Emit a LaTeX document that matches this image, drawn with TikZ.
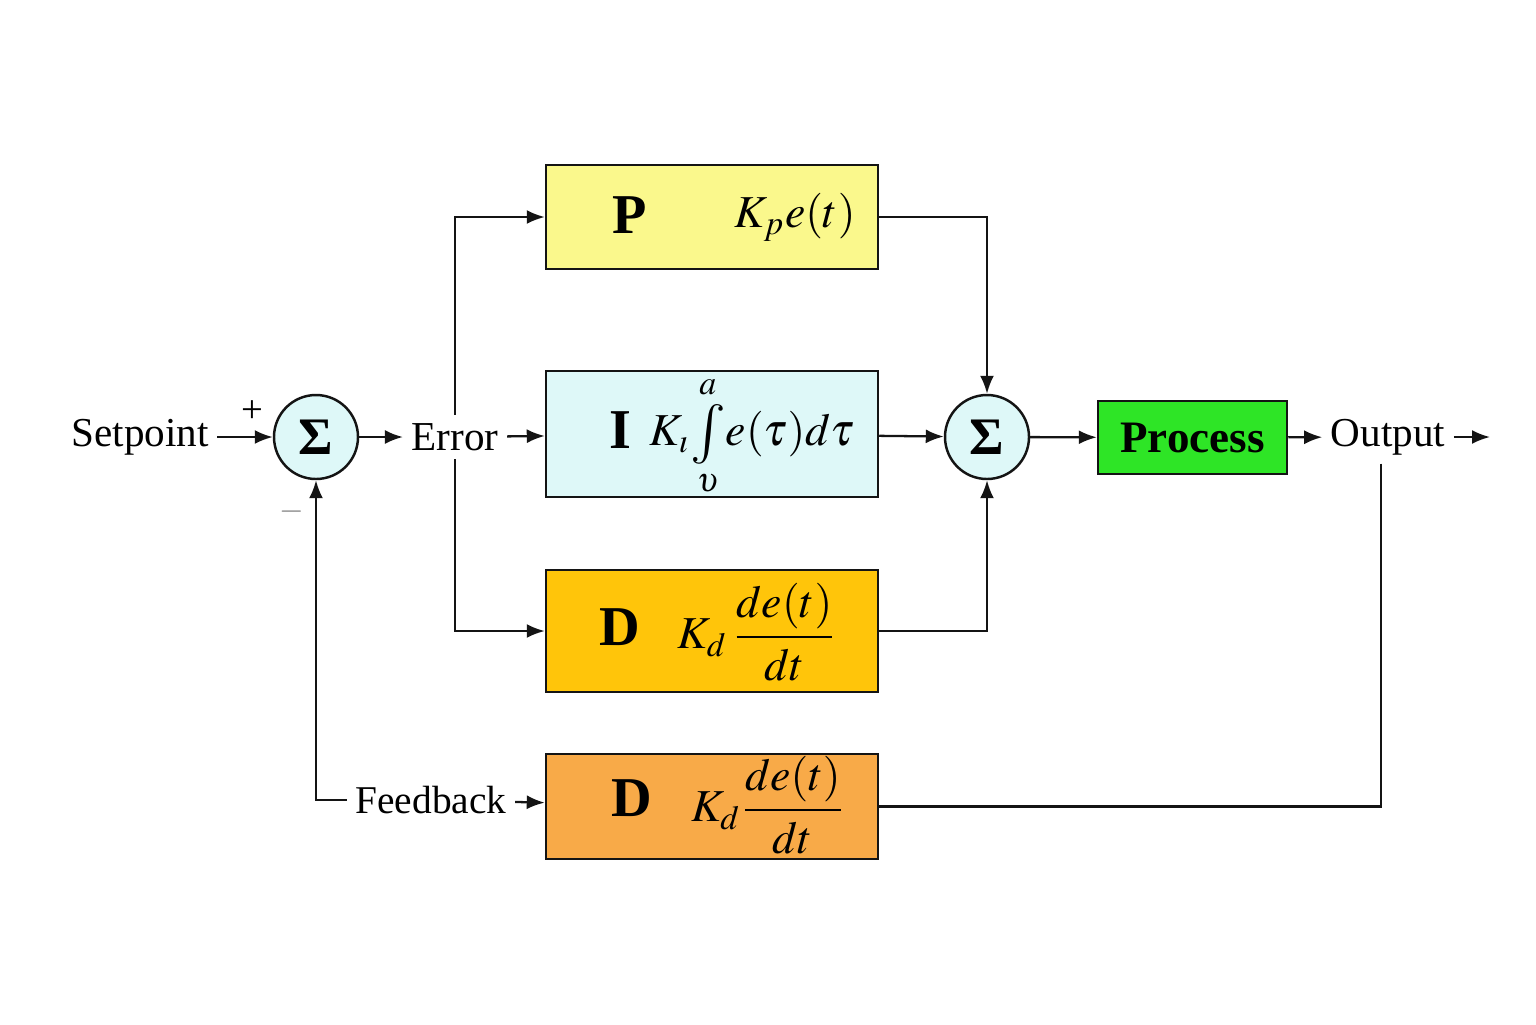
\documentclass[tikz,border=0pt]{standalone}
\usepackage{amsmath}
\usepackage{mathptmx}
\usepackage{fontspec}
\setmainfont{Liberation Serif}
\usetikzlibrary{positioning, arrows.meta, calc}
\definecolor{PIDyellow}{RGB}{250, 248, 140}
\definecolor{PIDcyan}{RGB}{222, 248, 248}
\definecolor{PIDamber}{RGB}{255, 197, 10}
\definecolor{PIDorange}{RGB}{248, 170, 72}
\definecolor{PIDgreen}{RGB}{46, 229, 38}
\definecolor{PIDline}{RGB}{20, 20, 20}
\newcommand{\bigint}{\mathop{\vcenter{\hbox{\fontsize{17}{17}\selectfont$\int$}}}\limits}

\begin{document}
\begin{tikzpicture}[
		block/.style={shape=rectangle, draw=PIDline, line width=0.7pt, minimum width=3.32cm, inner sep=0pt},
		sumnode/.style={shape=circle, draw=PIDline, line width=0.7pt, fill=PIDcyan, minimum size=0.84cm, inner sep=0pt, font=\fontsize{15}{16}\selectfont\bfseries},
		label/.style={inner sep=0.08cm, font=\fontsize{11.7}{14}\selectfont},
		letter/.style={font=\fontsize{16}{18}\selectfont\bfseries},
		formula/.style={font=\fontsize{13}{15}\selectfont},
		sig/.style={PIDline, line width=0.65pt, -{Latex[length=0.18cm, width=0.14cm]}},
		wire/.style={PIDline, line width=0.65pt}
	]
		\fill[white] (0,0) rectangle (15.36,-10.24);
		\useasboundingbox (0,0) rectangle (15.36,-10.24);
		
		% Input side
		\node[label] (setpoint) at (1.40,-4.37) {Setpoint};
		\node[sumnode] (sum1) at (3.16,-4.37) {Σ};
		\node[label] (error) at (4.55,-4.37) {Error};
		\node[font=\fontsize{11}{12}\selectfont] (plus) at (2.52,-4.12) {+};
		\node[font=\fontsize{9}{10}\selectfont, text=gray] (minus) at (2.92,-5.12) {$-$};
		\path[sig] (setpoint) edge (sum1);
		\path[sig] (sum1) edge (error);
		
		% P, I, D blocks
		\node[block, fill=PIDyellow, minimum height=1.04cm] (pblock) at (7.12,-2.17) {};
		\node[letter] (pletter) at (6.30,-2.15) {P};
		\node[formula] (pform) at (7.95,-2.17) {$K_{p}e(t)$};
		
		\node[block, fill=PIDcyan, minimum height=1.26cm] (iblock) at (7.12,-4.34) {};
		\node[letter] (iletter) at (6.20,-4.30) {I};
		\node[formula, inner sep=0pt] (iform) at (7.52,-4.36) {$K_{\imath}\!\bigint_{\upsilon}^{a}\! e(\tau)d\tau$};
		
		\node[block, fill=PIDamber, minimum height=1.22cm] (dblock) at (7.12,-6.31) {};
		\node[letter] (dletter) at (6.20,-6.27) {D};
		\node[formula] (dform) at (7.57,-6.32) {$K_{d}\,\dfrac{de(t)}{dt}$};
		
		% Error branches
		\path[sig] (error) edge (iblock);
		\draw[sig] (error.north) |- (pblock.west);
		\draw[sig] (error.south) |- (dblock.west);
		
		% Second summing point
		\node[sumnode] (sum2) at (9.87,-4.37) {Σ};
		\draw[sig] (pblock.east) -| (sum2.north);
		\draw[sig] (dblock.east) -| (sum2.south);
		\path[sig] (iblock) edge (sum2);
		
		% Process and output
		\node[block, fill=PIDgreen, minimum width=1.89cm, minimum height=0.73cm, font=\fontsize{12.8}{15}\selectfont\bfseries] (process) at (11.925,-4.375) {Process};
		\node[label] (output) at (13.88,-4.37) {Output};
		\coordinate (outend) at (14.90,-4.37);
		\coordinate (outtap) at (13.81,-4.37);
		\path[sig] (sum2) edge (process);
		\path[sig] (process) edge (output);
		\path[sig] (output) edge (outend);
		
		% Feedback path
		\node[block, fill=PIDorange, minimum height=1.05cm] (fblock) at (7.12,-8.065) {};
		\node[letter] (fletter) at (6.32,-7.98) {D};
		\node[formula] (fform) at (7.68,-8.05) {$K_{d}\dfrac{de(t)}{dt}$};
		\node[label, font=\fontsize{11.2}{14}\selectfont] (feedback) at (4.31,-8.00) {Feedback};
		\draw[wire] (outtap |- output.south) |- (fblock.east);
		\path[sig] (feedback) edge (fblock);
		\draw[sig] (feedback.west) -| (sum1.south);
	\end{tikzpicture}
\end{document}
